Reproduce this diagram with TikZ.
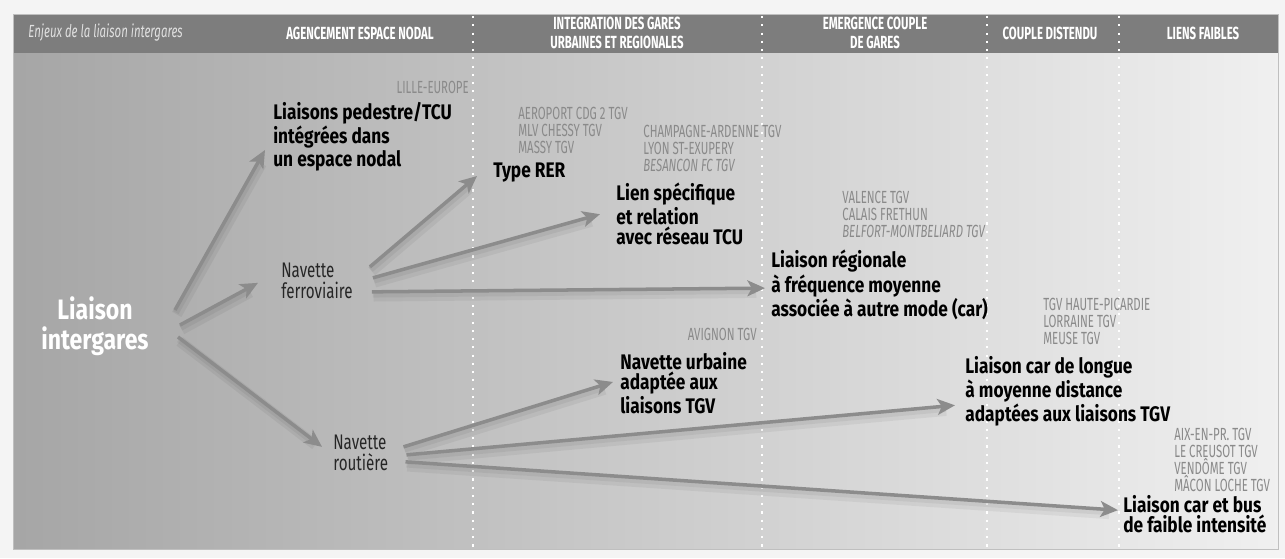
\documentclass[tikz,border=0pt]{standalone}
\usepackage{fontspec}
\setmainfont{Fira Sans}[FakeStretch=0.82]
\newfontfamily\modefont{Fira Sans}[FakeStretch=0.72]
\newfontfamily\narrowfont{Fira Sans}[FakeStretch=0.65]
\usetikzlibrary{arrows.meta}
\definecolor{headgray}{HTML}{7D7D7D}
\definecolor{arrowgray}{HTML}{8C8C8C}
\definecolor{garegray}{HTML}{8A8A8A}
\definecolor{paper}{HTML}{F4F4F4}
\tikzset{
	head/.style={font=\narrowfont\bfseries\fontsize{10}{10.5}\selectfont, text=white, align=center, inner sep=0},
	theme/.style={font=\bfseries\fontsize{12}{11.5}\selectfont, align=left, anchor=north west, inner sep=0},
	mode/.style={font=\modefont\fontsize{12}{11.5}\selectfont, text=black!85, align=left, anchor=north west, inner sep=0},
	gare/.style={font=\narrowfont\fontsize{10}{9.7}\selectfont, text=garegray, align=left, anchor=north west, inner sep=0},
	fleche/.style={draw=arrowgray, line width=2pt, -{Stealth[length=10pt,width=9pt,inset=2.5pt]},
		preaction={draw=black, arrows=-, opacity=0.05, line width=6pt, shorten >=6pt, transform canvas={shift={(1pt,-2.5pt)}}},
		preaction={draw=black, arrows=-, opacity=0.05, line width=3.5pt, shorten >=6pt, transform canvas={shift={(0.5pt,-1.5pt)}}}},
	sep/.style={white, line width=1.2pt, dash pattern=on 1.2pt off 3.5pt}
}
\begin{document}
\begin{tikzpicture}[x=0.02cm,y=-0.02cm]
	\useasboundingbox (0,0) rectangle (1285,558);
	\fill[paper] (0,0) rectangle (1285,558);
	% fond et bandeau
	\shade[left color=black!35, middle color=black!18, right color=black!6] (13,53) rectangle (1278,549);
	\fill[headgray] (13,14) rectangle (1278,53);
	\draw[black!25] (13,14) rectangle (1278,549);
	\foreach \x in {473,762,987,1119}
		\draw[sep] (\x,16) -- (\x,548);
	% titres des colonnes
	\node[head, font=\narrowfont\itshape\fontsize{10}{10.5}\selectfont, text=black!12, anchor=west] (enjeux) at (28,33) {Enjeux de la liaison intergares};
	\node[head] (agencement) at (360,33) {AGENCEMENT ESPACE NODAL};
	\node[head] (integration) at (617,33) {INTEGRATION DES GARES\\URBAINES ET REGIONALES};
	\node[head] (emergence) at (875,33) {EMERGENCE COUPLE\\DE GARES};
	\node[head] (distendu) at (1050,33) {COUPLE DISTENDU};
	\node[head] (faibles) at (1203,33) {LIENS FAIBLES};
	% liaison et navettes
	\node[font=\bfseries\fontsize{16}{17}\selectfont, text=white, align=center, inner sep=0] (inter) at (95,326) {Liaison\\intergares};
	\node[mode] (ferro) at (281,263) {Navette\\ferroviaire};
	\node[mode] (rout) at (333,435) {Navette\\routière};
	% modes de liaison
	\node[theme] (pedestre) at (273,102) {Liaisons pedestre/TCU\\intégrées dans\\un espace nodal};
	\node[theme] (rer) at (493,163) {Type RER};
	\node[theme] (lien) at (616,183) {Lien spécifique\\et relation\\avec réseau TCU};
	\node[theme] (regio) at (771,250) {Liaison régionale\\à fréquence moyenne\\associée à autre mode (car)};
	\node[theme] (urbaine) at (620,352) {Navette urbaine\\adaptée aux\\liaisons TGV};
	\node[theme] (longue) at (965,356) {Liaison car de longue\\à moyenne distance\\adaptées aux liaisons TGV};
	\node[theme] (bus) at (1123,495) {Liaison car et bus\\de faible intensité};
	% gares
	\node[gare, anchor=north east] (lille) at (469,81) {LILLE-EUROPE};
	\node[gare] (garesrer) at (518,107) {AEROPORT CDG 2 TGV\\MLV CHESSY TGV\\MASSY TGV};
	\node[gare] (gareslien) at (643,125) {CHAMPAGNE-ARDENNE TGV\\LYON ST-EXUPERY\\\textit{BESANCON FC TGV}};
	\node[gare] (garesregio) at (842,191) {VALENCE TGV\\CALAIS FRETHUN\\\textit{BELFORT-MONTBELIARD TGV}};
	\node[gare, anchor=north east] (avignon) at (757,328) {AVIGNON TGV};
	\node[gare] (gareslongue) at (1043,298) {TGV HAUTE-PICARDIE\\LORRAINE TGV\\MEUSE TGV};
	\node[gare] (garesbus) at (1174,428) {AIX-EN-PR. TGV\\LE CREUSOT TGV\\VENDÔME TGV\\MÂCON LOCHE TGV};
	% fleches
	\draw[fleche] ([shift={(80,-16)}]inter.center) -- ([shift={(-8,48)}]pedestre.north west);
	\draw[fleche] ([shift={(85,-1)}]inter.center) -- ([shift={(-23,2)}]ferro.west);
	\draw[fleche] ([shift={(83,11)}]inter.center) -- ([shift={(-11,-6)}]rout.west);
	\draw[fleche] ([shift={(17,-14)}]ferro.east) -- ([shift={(-16,3)}]rer.west);
	\draw[fleche] ([shift={(20,-3)}]ferro.east) -- ([shift={(-16,0)}]lien.west);
	\draw[fleche] ([shift={(19,11)}]ferro.east) -- ([shift={(-6,3)}]regio.west);
	\draw[fleche] ([shift={(15,-6)}]rout.east) -- ([shift={(-7,-1)}]urbaine.west);
	\draw[fleche] ([shift={(18,2)}]rout.east) -- ([shift={(-10,14)}]longue.west);
	\draw[fleche] ([shift={(17,9)}]rout.east) -- ([shift={(-5,-4)}]bus.west);
\end{tikzpicture}
\end{document}
